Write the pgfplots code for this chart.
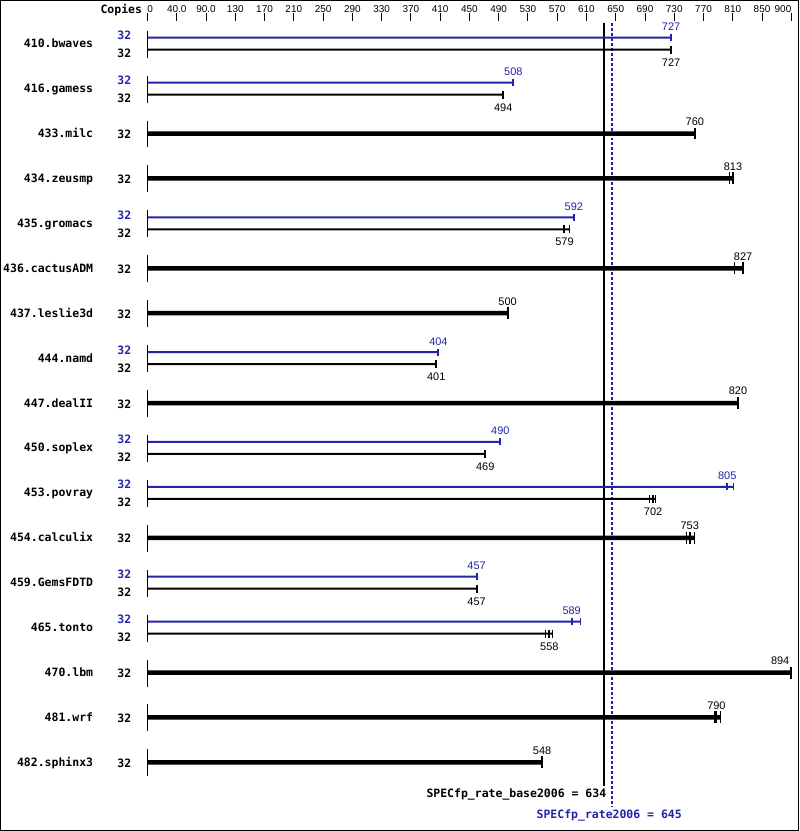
\documentclass[border=0pt]{standalone}
\usepackage{fontspec}
\usepackage{pgfplots}
\usepackage{pgfplotstable}
\pgfplotsset{compat=1.18}
\setmainfont{Liberation Sans}
\newfontfamily\monofont{DejaVu Sans Mono}
\definecolor{specblue}{RGB}{35,35,170}
\newcommand{\namefont}{\monofont\bfseries\fontsize{11.5}{13}\selectfont}
\newcommand{\valfont}{\fontsize{11}{13}\selectfont}
\newcommand{\tickfont}{\fontsize{10}{12}\selectfont}

% peak (blue) rows: y = row centre - 6
\pgfplotstableread{
y   median max
37  727    727
82  508    508
217 592    592
352 404    404
442 490    490
487 805    814
577 457    457
622 589    601
}\peak
% base rows beside a peak row: y = row centre + 6
\pgfplotstableread{
y   median max
49  727    727
94  494    494
229 579    586
364 401    401
454 469    469
499 702    706
589 457    457
634 558    563
}\basethin
% base rows with no separate peak: y = row centre
\pgfplotstableread{
y   median max
133 760    760
178 813    813
268 827    827
313 500    500
403 820    820
538 753    760
673 894    894
718 790    795
763 548    548
}\basethick

\begin{document}
\begin{tikzpicture}
\begin{axis}[
  at={(0pt,0pt)}, anchor=south west,
  scale only axis, width=799pt, height=831pt,
  xmin=-203.75, xmax=903.70, ymin=0, ymax=831, y dir=reverse,
  xtick=\empty, ytick=\empty,
  axis line style={line width=1.5pt},
  clip=false,
  /pgf/number format/assume math mode=true,
]
% zero lines
\addplot[black, only marks, mark=|, mark size=13.5pt, mark options={line width=1pt}]
  coordinates {(0,43.5) (0,88.5) (0,133.5) (0,178.5) (0,223.5) (0,268.5) (0,313.5) (0,358.5) (0,403.5)
               (0,448.5) (0,493.5) (0,538.5) (0,583.5) (0,628.5) (0,673.5) (0,718.5) (0,763.5)};
% reference lines
\addplot[black, line width=2pt] coordinates {(634,22) (634,787)};
\addplot[specblue, line width=2pt, dash pattern=on 3pt off 2pt] coordinates {(645,22) (645,808)};

% peak bars
\addplot[xbar, bar width=2pt, bar shift=0pt, fill=specblue, draw=none] table[x=max, y=y] {\peak};
\addplot[specblue, only marks, mark=|, mark size=3.5pt, mark options={specblue, line width=2pt},
  nodes near coords, point meta=x,
  nodes near coords style={specblue, font=\valfont, anchor=south, inner sep=0pt, yshift=6pt}]
  table[x=median, y=y] {\peak};
\addplot[specblue, only marks, mark=|, mark size=3.5pt, mark options={specblue, line width=1pt}]
  coordinates {(814,487) (601,622)};

% base thin bars
\addplot[xbar, bar width=2pt, bar shift=0pt, fill=black, draw=none] table[x=max, y=y] {\basethin};
\addplot[black, only marks, mark=|, mark size=4pt, mark options={black, line width=2pt},
  nodes near coords, point meta=x,
  nodes near coords style={black, font=\valfont, anchor=north, inner sep=0pt, yshift=-8pt}]
  table[x=median, y=y] {\basethin};
\addplot[black, only marks, mark=|, mark size=4pt, mark options={black, line width=1pt}]
  coordinates {(586,229) (697,499) (706,499) (553,634) (563,634)};

% base thick bars
\addplot[xbar, bar width=4.5pt, bar shift=0pt, fill=black, draw=none] table[x=max, y=y] {\basethick};
\addplot[black, only marks, mark=|, mark size=6pt, mark options={black, line width=2pt},
  nodes near coords, point meta=x, skip coords between index={6}{7},
  nodes near coords style={black, font=\valfont, anchor=south, inner sep=0pt, yshift=7pt}]
  table[x=median, y=y] {\basethick};
\addplot[black, only marks, mark=|, mark size=6pt, mark options={black, line width=2pt},
  nodes near coords, point meta=x,
  nodes near coords style={black, font=\valfont, anchor=south east, inner sep=0pt, yshift=7pt, xshift=-1pt}]
  coordinates {(894,673)};
\addplot[black, only marks, mark=|, mark size=6pt, mark options={black, line width=1pt}]
  coordinates {(808,178) (815,268) (748,538) (760,538) (787,718) (795,718)};

% benchmark names
\addplot[draw=none, nodes near coords, point meta=explicit symbolic,
  nodes near coords style={black, font=\namefont, anchor=base east, inner sep=0pt, yshift=-4pt}]
  coordinates {(-75.26,43) [410.bwaves] (-75.26,88) [416.gamess] (-75.26,133) [433.milc]
   (-75.26,178) [434.zeusmp] (-75.26,223) [435.gromacs] (-75.26,268) [436.cactusADM]
   (-75.26,313) [437.leslie3d] (-75.26,358) [444.namd] (-75.26,403) [447.dealII]
   (-75.26,448) [450.soplex] (-75.26,493) [453.povray] (-75.26,538) [454.calculix]
   (-75.26,583) [459.GemsFDTD] (-75.26,628) [465.tonto] (-75.26,673) [470.lbm]
   (-75.26,718) [481.wrf] (-75.26,763) [482.sphinx3]};
% copies: peak
\addplot[draw=none, nodes near coords, point meta=explicit symbolic,
  nodes near coords style={specblue, font=\namefont, anchor=base east, inner sep=0pt, yshift=-4pt}]
  coordinates {(-22.18,35) [32] (-22.18,80) [32] (-22.18,215) [32] (-22.18,350) [32]
   (-22.18,440) [32] (-22.18,485) [32] (-22.18,575) [32] (-22.18,620) [32]};
% copies: base
\addplot[draw=none, nodes near coords, point meta=explicit symbolic,
  nodes near coords style={black, font=\namefont, anchor=base east, inner sep=0pt, yshift=-4pt}]
  coordinates {(-22.18,53) [32] (-22.18,98) [32] (-22.18,233) [32] (-22.18,368) [32]
   (-22.18,458) [32] (-22.18,503) [32] (-22.18,593) [32] (-22.18,638) [32]
   (-22.18,134) [32] (-22.18,179) [32] (-22.18,269) [32] (-22.18,314) [32] (-22.18,404) [32]
   (-22.18,539) [32] (-22.18,674) [32] (-22.18,719) [32] (-22.18,764) [32]};

\node[anchor=base east, inner sep=0pt, font=\namefont] at (axis cs:-7.3,13) {Copies};
\node[anchor=base east, inner sep=0pt, font=\namefont] at (axis cs:637.2,798) {SPECfp\_rate\_base2006 = 634};
\node[anchor=base west, inner sep=0pt, font=\namefont, text=specblue] at (axis cs:540.1,819) {SPECfp\_rate2006 = 645};
\end{axis}

\begin{axis}[
  at={(147pt,811pt)}, anchor=north west,
  scale only axis, width=645pt, height=10pt,
  xmin=0, xmax=894, ymin=0, ymax=1,
  axis x line*=top, axis y line=none,
  x axis line style={draw=none},
  xtick={0,40.636,81.273,121.909,162.545,203.182,243.818,284.455,325.091,365.727,406.364,447.0,
         487.636,528.273,568.909,609.545,650.182,690.818,731.455,772.091,812.727,853.364,894},
  xticklabels={\makebox[0pt][l]{0},40.0,90.0,130,170,210,250,290,330,370,410,450,490,530,570,610,650,690,730,770,810,850,\makebox[0pt][r]{900}},
  minor x tick num=3,
  xtick align=outside,
  major tick length=8pt, minor tick length=4pt,
  every tick/.style={black, line width=1pt},
  xticklabel style={font=\tickfont, inner sep=0pt},
]
\end{axis}
\end{tikzpicture}
\end{document}
